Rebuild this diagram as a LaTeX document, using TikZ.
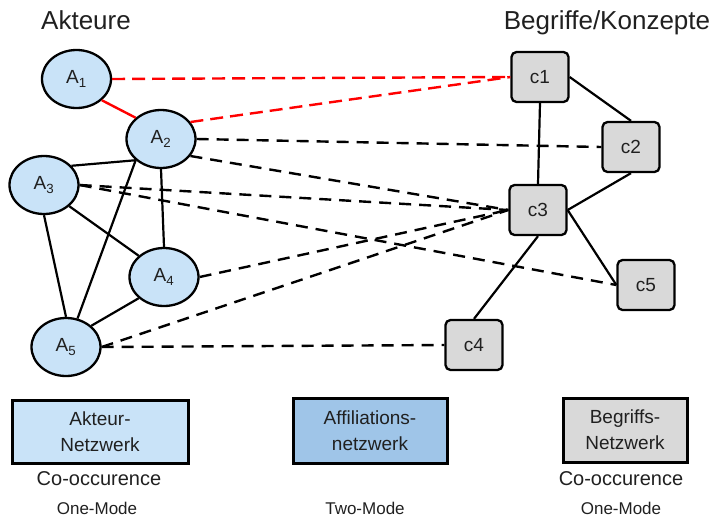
\documentclass[tikz,border=0pt]{standalone}
\usepackage{fontspec}
\setmainfont{Liberation Sans}
\usetikzlibrary{shapes.geometric}

\definecolor{actorfill}{HTML}{C9E3F8}
\definecolor{conceptfill}{HTML}{D9D9D9}
\definecolor{affilfill}{HTML}{9FC5E8}
\definecolor{linkred}{HTML}{FF0000}
\definecolor{ink}{HTML}{202020}

\tikzset{
  actor/.style={ellipse, draw=black, line width=2.3pt, fill=actorfill,
    minimum width=69pt, minimum height=58pt, inner sep=0pt, text=ink,
    font=\fontsize{19}{21}\selectfont},
  concept/.style={rectangle, rounded corners=5pt, draw=black, line width=2.3pt,
    fill=conceptfill, minimum width=57pt, minimum height=50pt, inner sep=0pt,
    text=ink, font=\fontsize{19}{21}\selectfont},
  legendbox/.style={rectangle, draw=black, line width=3pt, inner sep=0pt,
    align=center, text=ink, font=\fontsize{19}{26}\selectfont},
  heading/.style={anchor=base, text=ink, font=\fontsize{26}{30}\selectfont},
  caption/.style={text=ink, font=\fontsize{20}{24}\selectfont},
  modelabel/.style={text=ink, font=\fontsize{17}{20}\selectfont},
  tie/.style={draw=black, line width=2.2pt},
  redtie/.style={draw=linkred, line width=2.4pt},
  affil/.style={draw=black, line width=2.4pt, dash pattern=on 12pt off 8pt},
  redaffil/.style={draw=linkred, line width=2.4pt, dash pattern=on 13pt off 7pt},
}

\begin{document}
\begin{tikzpicture}[x=1pt, y=-1pt]
\useasboundingbox (0,0) rectangle (718,520);

% headings
\node[heading] (hA) at (86,29) {Akteure};
\node[heading] (hB) at (607,29) {Begriffe/Konzepte};

% actors
\node[actor] (A1) at (76.5,79)  {A\textsubscript{1}};
\node[actor] (A2) at (161,139)  {A\textsubscript{2}};
\node[actor] (A3) at (44,185)   {A\textsubscript{3}};
\node[actor] (A4) at (164,277)  {A\textsubscript{4}};
\node[actor] (A5) at (66,347)   {A\textsubscript{5}};

% concepts
\node[concept] (c1) at (540,77)  {c1};
\node[concept] (c2) at (631,147) {c2};
\node[concept] (c3) at (538,210) {c3};
\node[concept] (c4) at (474,345) {c4};
\node[concept] (c5) at (646,285) {c5};

% actor network
\draw[redtie] (A1.-40) -- (A2.140);
\draw[tie] (A2.220) -- (A3.35);
\draw[tie] (A2.south) -- (A4.north);
\draw[tie] (A2.220) -- (A5.68);
\draw[tie] (A3.-40) -- (A4.140);
\draw[tie] (A3.south) -- (A5.north);
\draw[tie] (A4.220) -- (A5.40);

% concept network
\draw[tie] (c1.east) -- (c2.north);
\draw[tie] (c1.south) -- (c3.north);
\draw[tie] (c2.south) -- (c3.east);
\draw[tie] (c3.south) -- (c4.north);
\draw[tie] (c3.east) -- (c5.west);

% affiliations between actors and concepts
\draw[redaffil] (A1.east) -- (c1.west);
\draw[redaffil] (A2.30) -- (c1.west);
\draw[affil] (A2.east) -- (c2.west);
\draw[affil] (A2.-30) -- (c3.west);
\draw[affil] (A3.east) -- (c3.west);
\draw[affil] (A3.east) -- (c5.west);
\draw[affil] (A4.east) -- (c3.west);
\draw[affil] (A5.east) -- (c3.west);
\draw[affil] (A5.east) -- (c4.west);

% legend
\node[legendbox, fill=actorfill, minimum width=176pt, minimum height=63pt]
  (L1) at (100,431.5) {Akteur-\\Netzwerk};
\node[legendbox, fill=affilfill, minimum width=154pt, minimum height=65pt]
  (L2) at (370,430.5) {Affiliations-\\netzwerk};
\node[legendbox, fill=conceptfill, minimum width=124pt, minimum height=64pt]
  (L3) at (625,430) {Begriffs-\\Netzwerk};

\node[caption] (co1) at (99,479) {Co-occurence};
\node[caption] (co3) at (621,479) {Co-occurence};
\node[modelabel] (m1) at (97,508) {One-Mode};
\node[modelabel] (m2) at (365,508) {Two-Mode};
\node[modelabel] (m3) at (621,508) {One-Mode};
\end{tikzpicture}
\end{document}
